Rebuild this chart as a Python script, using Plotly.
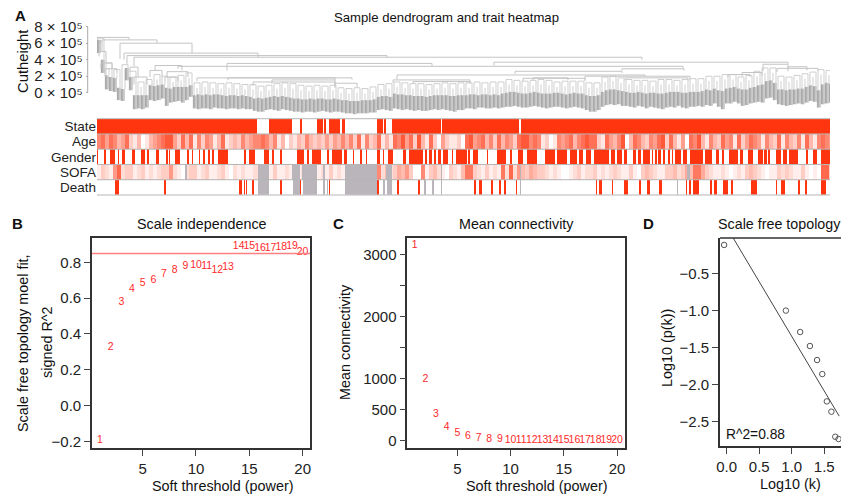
import plotly.graph_objects as go

W, H = 841, 495
FONT = "Liberation Sans"
RED = "#ff3510"
GREY = "#b9b5ba"

# ---------- Panel A data ----------
trait_names = ["State", "Age", "Gender", "SOFA", "Death"]
n_samples = 733
state_white = [(160,172),(195,203),(205,220),(226,227),(229,232),(243,245),(248,280),(286,287),(289,295),(344,345),(422,424)]
gender_red = [(0,1),(7,9),(13,18),(21,22),(25,28),(35,38),(44,48),(50,52),(59,62),(69,71),(72,73),(78,83),(90,92),(95,96),
              (102,103),(106,108),(111,113),(115,117),(121,123),(123,131),(147,149),(152,158),(167,172),(175,177),(183,185),
              (200,207),(210,212),(215,224),(230,232),(235,245),(247,250),(256,257),(263,265),(269,270),(280,283),(286,287),
              (291,296),(306,309),(312,326),(328,330),(332,335),(337,339),(341,344),(346,351),(355,356),(359,370),(371,373),
              (376,381),(390,391),(400,409),(413,415),(421,426),(430,440),(448,458),(460,470),(473,480),(482,486),(489,494),
              (497,512),(514,518),(520,525),(527,530),(536,539),(541,544),(546,553),(555,556),(558,560),(561,564),(566,568),
              (571,573),(575,576),(578,584),(586,590),(593,606),(608,615),(619,622),(625,627),(632,641),(643,646),(651,656),
              (661,666),(667,670),(671,673),(679,684),(686,690),(692,701),(709,711),(716,720),(724,733)]
death_red = [(18,22),(67,69),(142,145),(147,148),(149,150),(155,157),(183,185),(203,204),(232,233),(280,282),(300,302),
             (321,323),(377,379),(382,385),(394,396),(402,404),(407,409),(419,420),(499,500),(502,505),(515,516),(527,531),
             (542,544),(550,553),(562,565),(589,590),(592,594),(596,602),(613,615),(617,620),(626,631),(634,636),(654,660),
             (679,680),(684,688),(701,703),(708,710),(724,729)]
death_grey = [(161,172),(196,203),(206,220),(226,228),(230,231),(248,280),(286,288),(290,295),(327,329),(335,337),(344,345),(423,424),(580,581)]
sofa_grey = [(88,90),(161,172),(195,203),(205,220),(226,228),(248,280),(289,295),(344,345),(423,424),(590,593)]
age_levels = [5,6,4,6,5,3,4,6,2,1,3,0,1,3,4,5,6,7,7,4,2,6,3,6,1,5,2,5,4,1,3,6,1,2,3,2,5,3,4,5,5,6,5,3,5,1,3,0,2,1,3,2,5,3,2,3,2,4,2,4,3,
              5,3,5,2,6,1,5,2,3,6,1,3,1,6,5,7,4,6,2,7,3,1,6,2,0,4,2,1,1,2,0,6,7,4,5,6,3,5,2,6,3,5,4,2,6,7,7,5,6,5,1,2,0,1,5,4,5,6,3,5,6,7,6,
              6,2,1,6,4,3,5,7,0,3,6,5,3,2,5,4,6,7,2,6,3,1,4,0,6,5,7,3,1,5,3,2,6,4,5,1,6,2,4,6,5,4,1,5,3,2,6,1,5,3,2,5,1,6,3,1,5,6,5,4]
sofa_levels = [1,3,2,1,6,9,2,3,3,1,2,3,1,2,1,2,3,3,6,2,1,0,2,3,3,1,2,3,1,1,2,3,1,0,2,1,2,1,1,2,2,1,0,1,3,1,1,2,1,0,1,2,2,1,2,1,2,1,3,1,2,
               1,1,1,1,1,1,1,1,1,7,2,4,2,3,5,4,6,3,0,0,7,1,3,4,2,1,0,3,2,1,4,8,8,3,2,1,3,1,2,1,8,2,9,2,6,4,3,5,4,3,3,2,1,2,1,0,0,1,2,3,1,2,2,
               3,1,2,1,2,3,2,1,1,3,1,0,3,4,3,2,1,1,3,3,4,2,3,5,4,8,8,5,3,2,1,1,2,1,0,1,2,1,3,4,3,2,1,0,1,1,3,2,3,2,1,1,3,1,0,1,0,9,9,3]

leaf_bottom = [4.8,2.4,0.4,0.2,0.1,-0.9,-1.0,1.5,0.3,-2.0,-1.9,-2.0,-1.8,-0.9,-1.0,-0.9,-0.7,-1.6,-1.2,-1.1,-1.0,-1.2,-0.9,-0.5,
               -1.9,-2.0,-1.9,-1.9,-2.0,-1.8,-1.9,-1.9,-2.0,-1.9,-1.9,-2.0,-1.9,-2.0,-2.0,
               -2.2,-2.3,-2.3,-2.1,-2.0,-2.1,-2.2,-2.0,
               -2.1,-2.2,-2.3,-2.3,-2.4,-2.3,-2.3,-2.4,-2.3,-2.2,-2.3,-2.4,-2.3,
               -2.3,-2.4,-2.5,-2.5,-2.6,-2.5,-2.5,-2.5,-2.4,-2.4,
               -2.1,-2.0,-2.1,-2.2,
               -1.9,-2.0,-2.1,-2.0,-2.1,-2.2,-2.1,-2.2,-2.2,-2.1,-2.0,-2.1,-2.0,-2.1,-2.2,-2.3,-2.1,-2.1,
               -1.9,-1.9,-2.0,-1.8,-1.8,-1.9,-1.9,-1.8,-1.9,
               -1.8,-1.7,-1.7,-1.6,-1.7,-1.8,-1.8,-1.7,-1.6,-1.7,-1.8,-1.9,-1.8,-1.7,-1.7,-1.8,-1.9,-1.8,-1.7,-1.8,-1.9,
               -2.1,-2.3,-2.3,-2.1,
               -1.7,-1.5,-1.4,-1.5,-1.4,-1.6,
               -1.6,-1.7,-1.8,-1.6,-1.7,-1.9,-1.7,-1.8,-1.9,-2.0,-1.8,-1.7,-1.8,-1.6,-1.8,-1.9,-1.7,-1.7,-1.6,-1.7,
               -1.5,-1.6,-1.3,-1.7,-2.0,-1.3,-1.3,-1.1,-1.3,-1.6,-1.5,-1.3,-1.2,-1.1,
               -1.2,-0.7,-0.6,-0.9,
               -1.4,-1.5,-1.6,-1.5,-1.4,-1.3,-1.4,-1.2,-1.0,-1.1,
               -1.8,-1.4,-1.3,-1.2]
leaf_top = [6.4,4.0,2.1,1.9,1.8,0.6,0.45,3.0,1.9,-0.3,-0.3,-0.3,-0.3,0.9,0.8,0.9,1.0,0.6,0.5,0.7,0.7,0.7,0.7,0.9,
            -0.3,-0.2,-0.3,-0.2,-0.3,-0.2,-0.2,-0.3,-0.4,-0.3,-0.3,-0.4,-0.3,-0.4,-0.5,
            -0.7,-0.6,-0.7,-0.6,-0.5,-0.4,-0.5,-0.4,
            -0.5,-0.6,-0.7,-0.7,-0.8,-0.8,-0.7,-0.8,-0.7,-0.7,-0.8,-0.8,-0.7,
            -0.8,-0.9,-0.9,-1.0,-1.0,-1.0,-0.9,-0.9,-0.9,-0.8,
            -0.5,-0.4,-0.4,-0.5,
            -0.1,-0.2,-0.2,-0.3,-0.3,-0.4,-0.4,-0.4,-0.5,-0.4,-0.3,-0.3,-0.3,-0.3,-0.4,-0.4,-0.3,-0.3,
            -0.3,-0.2,-0.2,-0.3,-0.2,-0.2,-0.3,-0.2,-0.3,
            -0.1,0,0.1,0.1,0,-0.1,-0.1,0,0.1,0,-0.1,-0.1,-0.1,0,0,-0.1,-0.2,-0.1,0,-0.1,-0.1,
            -0.3,-0.4,-0.4,-0.3,
            0.1,0.3,0.4,0.4,0.3,0.2,
            0.1,0,0,0.1,0,-0.1,0,0,-0.1,-0.1,0,0.1,0.1,0.1,0,0,0.1,0.1,0.1,0.2,
            0.4,0.3,0.5,0.3,0.2,0.5,0.6,0.7,0.5,0.4,0.4,0.6,0.7,0.9,
            1.0,1.4,1.5,1.2,
            0.4,0.4,0.3,0.4,0.4,0.5,0.5,0.7,0.9,0.8,
            0.3,1.0,1.2,1.1]
arch_top = [6.6,3.6,2.8,3.4,2.6,1.3,1.6,2.2,2.0,1.9,2.1,2.4,
            1.2,1.3,1.2,1.1,1.2,1.1,1.0,1.0,
            0.8,0.9,1.1,1.2,
            1.1,0.9,0.8,0.9,0.8,0.9,
            0.6,0.5,0.6,0.5,0.7,
            1.0,1.1,
            1.3,1.2,1.1,1.1,1.0,1.1,1.2,1.1,1.2,
            1.2,1.3,1.2,1.3,1.3,
            1.6,1.5,1.4,1.5,1.6,1.5,1.3,1.4,1.4,1.4,
            1.2,1.2,
            1.9,2.0,1.8,
            1.6,1.5,1.5,1.4,1.6,1.6,1.5,1.6,1.7,1.7,
            2.0,2.0,2.2,2.2,1.9,2.1,2.6,
            3.0,3.0,
            2.0,1.9,2.1,2.3,2.5,
            2.8,2.7]
merge_x0 = [0,5,23,27,30,37,397,130,81,525,418,300,100,131,156,175,238,296,316,426,436,488,528,666,691,680,645,631,2,4,8,33,37,53,58,70,68]
merge_x1 = [32,60,95,161,290,545,691,335,586,587,525,548,255,238,238,238,260,373,373,488,471,593,591,691,710,721,665,653,9,15,20,41,50,65,85,91,81]
merge_h  = [6.7,6.4,6.0,4.8,4.5,4.3,3.7,3.55,3.2,2.9,2.6,2.15,1.8,1.8,1.3,1.55,1.15,1.55,1.35,1.75,1.8,2.0,1.8,3.45,3.15,2.95,2.45,2.2,5.0,3.6,2.9,3.1,1.9,2.7,3.3,2.55,1.9]
merge_l0 = [6.4,5.0,4.1,4.0,3.5,3.2,3.3,2.7,2.9,2.7,2.3,1.6,1.4,1.5,0.8,1.1,0.6,1.2,1.1,1.4,1.5,1.6,1.5,2.6,2.6,2.5,2.0,1.9,4.4,2.9,2.0,2.5,1.0,1.9,2.7,1.9,1.4]
merge_l1 = [6.4,6.0,4.8,4.3,4.2,4.0,3.5,3.2,3.0,2.7,2.4,2.0,1.6,1.5,0.9,1.1,0.6,1.2,1.1,1.4,1.5,1.6,1.5,3.0,2.7,2.7,2.1,1.9,3.6,2.9,2.3,1.9,1.0,1.9,2.7,1.9,1.4]
cut_ticks = [0, 2, 4, 6, 8]
cut_labels = ["0 × 10⁵", "2 × 10⁵", "4 × 10⁵", "6 × 10⁵", "8 × 10⁵"]

# ---------- Panels B, C, D data ----------
powers = list(range(1, 21))
sft_r2 = [-0.197,0.327,0.577,0.649,0.683,0.701,0.735,0.757,0.779,0.785,0.779,0.757,0.77,0.891,0.887,0.878,0.878,0.884,0.891,0.856]
r2_cut = 0.85
mean_k = [3150,987,420,204,107,58,37,21,10,6,4,3,2,2,1,1,1,1,0,0]
log_k = [-0.04,0.91,1.13,1.28,1.39,1.47,1.54,1.61,1.67,1.72]
log_p = [-0.11,-1.0,-1.29,-1.48,-1.67,-1.86,-2.23,-2.37,-2.71,-2.74]
fit_x = [0.10,1.73]
fit_y = [-0.016,-2.43]

# ---------- helpers ----------
def fx(p): return p / W
def fy(p): return 1 - p / H

def spans(base, pairs, value):
    row = list(base)
    for a, b in pairs:
        for i in range(a, min(b, n_samples)):
            row[i] = value
    return row

state_row = spans([1.0] * n_samples, state_white, 0.0)
age_row = [age_levels[min(i // 4, len(age_levels) - 1)] / 8.5 for i in range(n_samples)]
gender_row = spans([0.0] * n_samples, gender_red, 1.0)
sofa_row = spans([sofa_levels[min(i // 4, len(sofa_levels) - 1)] / 12 for i in range(n_samples)], sofa_grey, -1.0)
death_row = spans(spans([0.0] * n_samples, death_red, 1.0), death_grey, -1.0)

fig = go.Figure()

# dendrogram: small arches
ax, ay = [], []
for m, t in enumerate(arch_top):
    k0, k1 = m * 2, min(m * 2 + 1, len(leaf_top) - 1)
    x0, x1 = k0 * 4 + 1, k1 * 4 + 3
    ax += [x0, x0, x1, x1, None]
    ay += [leaf_top[k0], t, t, leaf_top[k1], None]
    ax += [x0 + 3, x0 + 3, None]
    ay += [leaf_top[k0], t - 0.6, None]
fig.add_trace(go.Scatter(x=ax, y=ay, mode="lines", line=dict(color="#cfcfcf", width=1),
                         xaxis="x", yaxis="y", hoverinfo="skip", showlegend=False))
# dendrogram: leaf masses
lx, ly = [], []
for k in range(len(leaf_bottom)):
    for off in (0.4, 1.7, 3.0):
        lx += [k * 4 + off, k * 4 + off, None]
        ly += [leaf_bottom[k], leaf_top[k], None]
fig.add_trace(go.Scatter(x=lx, y=ly, mode="lines", line=dict(color="#a0a0a0", width=1),
                         xaxis="x", yaxis="y", hoverinfo="skip", showlegend=False))
# dendrogram: larger merges
bx, by = [], []
for x0, x1, h, l0, l1 in zip(merge_x0, merge_x1, merge_h, merge_l0, merge_l1):
    bx += [x0, x0, x1, x1, None]
    by += [l0, h, h, l1, None]
fig.add_trace(go.Scatter(x=bx, y=by, mode="lines", line=dict(color="#c4c4c4", width=1),
                         xaxis="x", yaxis="y", hoverinfo="skip", showlegend=False))

# trait heatmap
fig.add_trace(go.Heatmap(z=[state_row, age_row, gender_row, sofa_row, death_row],
                         y=trait_names, zmin=-1, zmax=1, zsmooth=False, showscale=False, hoverinfo="skip",
                         colorscale=[[0, GREY], [0.5, GREY], [0.5, "#ffffff"], [1, RED]],
                         xaxis="x2", yaxis="y2"))

# B
fig.add_trace(go.Scatter(x=powers, y=sft_r2, mode="text", text=[str(p) for p in powers],
                         textfont=dict(family=FONT, size=10.5, color="#ff2a2a"), textposition="middle center",
                         xaxis="x3", yaxis="y3", showlegend=False, hoverinfo="skip", cliponaxis=False))
# C
fig.add_trace(go.Scatter(x=powers, y=mean_k, mode="text", text=[str(p) for p in powers],
                         textfont=dict(family=FONT, size=10.5, color="#ff2a2a"), textposition="middle center",
                         xaxis="x4", yaxis="y4", showlegend=False, hoverinfo="skip", cliponaxis=False))
# D
fig.add_trace(go.Scatter(x=fit_x, y=fit_y, mode="lines", line=dict(color="#444444", width=1),
                         xaxis="x5", yaxis="y5", showlegend=False, hoverinfo="skip"))
fig.add_trace(go.Scatter(x=log_k, y=log_p, mode="markers",
                         marker=dict(symbol="circle-open", size=5.5, color="#555555", line=dict(width=1, color="#555555")),
                         xaxis="x5", yaxis="y5", showlegend=False, hoverinfo="skip"))

tick_font = dict(family=FONT, size=15, color="#222222")
def box_axis(**kw):
    return dict(showgrid=False, zeroline=False, showline=True, linecolor="#333333", linewidth=1.6,
                mirror=True, ticks="outside", ticklen=6, tickwidth=1, tickcolor="#444444", automargin=False,
                tickfont=tick_font, **kw)

layout = dict(
    template="none",
    width=W, height=H, autosize=False, margin=dict(l=0, r=0, t=0, b=0, pad=0),
    paper_bgcolor="white", plot_bgcolor="white", font=dict(family=FONT, color="#222222"), showlegend=False,
    xaxis=dict(domain=[fx(97), fx(830)], range=[0, 733], visible=False, anchor="y", automargin=False),
    yaxis=dict(domain=[fy(115), fy(26.7)], range=[-2.70, 8], anchor="free", position=fx(87.7), automargin=False,
               tickvals=cut_ticks, ticktext=cut_labels, ticks="outside", ticklen=2, tickwidth=1, tickcolor="#aaaaaa",
               showgrid=False, zeroline=False, showline=False, tickfont=dict(family=FONT, size=15, color="#222222")),
    xaxis2=dict(domain=[fx(97), fx(830)], range=[-0.5, 732.5], visible=False, anchor="y2", automargin=False),
    yaxis2=dict(domain=[fy(195), fy(118.7)], autorange="reversed", anchor="x2", ticks="", showgrid=False, automargin=False,
                tickmode="array", tickvals=trait_names, ticktext=trait_names,
                zeroline=False, showline=False, tickfont=dict(family=FONT, size=13.5, color="#222222")),
    xaxis3=box_axis(domain=[fx(92), fx(310)], range=[0.25, 20.69], anchor="y3", tickvals=[5, 10, 15, 20]),
    yaxis3=box_axis(domain=[fy(448), fy(238)], range=[-0.237, 0.936], anchor="x3",
                    tickvals=[-0.2, 0, 0.2, 0.4, 0.6, 0.8], ticktext=["−0.2", "0.0", "0.2", "0.4", "0.6", "0.8"]),
    xaxis4=box_axis(domain=[fx(407.3), fx(625)], range=[0.3, 20.75], anchor="y4", tickvals=[5, 10, 15, 20]),
    yaxis4=box_axis(domain=[fy(448), fy(237.7)], range=[-125, 3280], anchor="x4",
                    tickvals=[0, 500, 1000, 1500, 2000, 2500, 3000], ticktext=["0", "500", "1000", " ", "2000", " ", "3000"]),
    xaxis5=dict(domain=[fx(720), 1], range=[-0.103, 1.758], anchor="y5", showgrid=False, zeroline=False, automargin=False,
                showline=True, linecolor="#333333", linewidth=1.6, ticks="outside", ticklen=6, tickwidth=1,
                tickcolor="#444444", tickfont=tick_font, tickvals=[0, 0.5, 1.0, 1.5], ticktext=["0.0", "0.5", "1.0", "1.5"]),
    yaxis5=dict(domain=[fy(446), fy(238)], range=[-2.835, -0.016], anchor="x5", showgrid=False, zeroline=False, automargin=False,
                showline=True, linecolor="#333333", linewidth=1.6, ticks="outside", ticklen=6, tickwidth=1,
                tickcolor="#444444", tickfont=tick_font, tickvals=[-0.5, -1, -1.5, -2, -2.5],
                ticktext=["−0.5", "−1.0", "−1.5", "−2.0", "−2.5"]),
)
fig.update_layout(**layout)

# lines: reference line in B, axis spine in A, heatmap row separators, top edge in D
shapes = [
    dict(type="line", xref="x3 domain", yref="y3", x0=0, x1=1, y0=r2_cut, y1=r2_cut, line=dict(color="#ff8080", width=1.5)),
    dict(type="line", xref="paper", yref="y", x0=fx(87.7), x1=fx(87.7), y0=0, y1=8, line=dict(color="#aaaaaa", width=1)),
    dict(type="line", xref="x5 domain", yref="y5 domain", x0=0, x1=1, y0=1, y1=1, line=dict(color="#333333", width=1.6)),
]
for frac in (0, 0.2, 0.4, 0.6, 0.8, 1):
    shapes.append(dict(type="line", xref="x2 domain", yref="y2 domain", x0=0, x1=1, y0=frac, y1=frac,
                       line=dict(color="#b5b5b5", width=1)))
fig.update_layout(shapes=shapes)

def note(text, px, py, size, bold=False, angle=0, xanchor="center"):
    t = f"<b>{text}</b>" if bold else text
    fig.add_annotation(text=t, x=fx(px), y=fy(py), xref="paper", yref="paper", showarrow=False,
                       xanchor=xanchor, yanchor="middle", textangle=angle,
                       font=dict(family=FONT, size=size, color="#111111"), borderpad=0, borderwidth=0)

note("A", 20, 16, 15, bold=True)
note("B", 17, 223, 15, bold=True)
note("C", 338, 223, 15, bold=True)
note("D", 648, 223, 15, bold=True)
note("Sample dendrogram and trait heatmap", 446.5, 17, 13.15)
note("Cutheight", 23, 62, 14.8, angle=-90)
note("Scale independence", 202, 224, 14.3)
note("Mean connectivity", 516.5, 224, 14.3)
note("Scale free topology", 717.7, 224, 14.3, xanchor="left")
note("Scale free topology moel fit,", 23, 343, 14.4, angle=-90)
note("signed R^2", 47, 342, 14.4, angle=-90)
note("Mean connectivity", 345, 342, 14.4, angle=-90)
note("Log10 (p(k))", 667, 348, 14.4, angle=-90)
note("Soft threshold (power)", 222.5, 486, 14.4)
note("Soft threshold (power)", 536.5, 486, 14.4)
note("Log10 (k)", 790, 484, 14.4)
note("R^2=0.88", 726, 434, 13.8, xanchor="left")

# the page's default 8px body margin would otherwise shift and clip the figure
fig.write_html("out.html", config=dict(displayModeBar=False),
               post_script="document.body.style.margin='0';document.documentElement.style.overflow='hidden';")
